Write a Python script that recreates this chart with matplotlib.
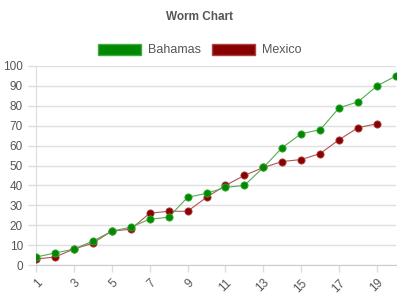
import matplotlib
matplotlib.use("Agg")
import matplotlib.pyplot as plt
from matplotlib.patches import Patch

plt.rcParams['font.family'] = ['Liberation Sans', 'DejaVu Sans']

title = "Worm Chart"
x_bahamas = list(range(1, 21))
bahamas = [4, 6, 8, 12, 17, 19, 23, 24, 34, 36, 39, 40, 49, 59, 66, 68, 79, 82, 90, 95]
x_mexico = list(range(1, 20))
mexico = [3, 4, 8, 11, 17, 18, 26, 27, 27, 34, 40, 45, 49, 52, 53, 56, 63, 69, 71]
x_ticks = [1, 3, 5, 7, 9, 11, 13, 15, 17, 19]
y_ticks = [0, 10, 20, 30, 40, 50, 60, 70, 80, 90, 100]

fig = plt.figure(figsize=(4, 3), dpi=100)
ax = fig.add_axes([36/400, 35/300, 360/400, 199/300])

green = '#008800'
red = '#880000'
ax.plot(x_bahamas, bahamas, color='#55aa55', lw=0.8, zorder=3)
ax.plot(x_bahamas, bahamas, 'o', color=green, mec='#33aa33', mew=0.6, ms=5.2, zorder=4)
ax.plot(x_mexico, mexico, color='#b05555', lw=0.8, zorder=2)
ax.plot(x_mexico, mexico, 'o', color=red, mec='#aa4444', mew=0.6, ms=5.2, zorder=3)

ax.set_xlim(1, 20)
ax.set_ylim(0, 100)
ax.set_yticks(y_ticks)
ax.set_xticks(x_ticks)
ax.set_xticklabels([str(v) for v in x_ticks], rotation=45, ha='right', rotation_mode='anchor')
ax.tick_params(axis='both', colors='#dddddd', labelcolor='#555555', labelsize=8.5, length=6, width=1)
ax.tick_params(axis='x', length=5)
ax.grid(axis='y', color='#e0e0e0', lw=1)
for s in ['top', 'right']:
    ax.spines[s].set_visible(False)
ax.spines['left'].set_color('#dddddd')
ax.spines['bottom'].set_color('#cccccc')
ax.set_axisbelow(True)

fig.text(0.5, 1 - 17/300, title, ha='center', va='center', fontsize=8.5, fontweight='bold', color='#555555')

handles = [Patch(facecolor=green, edgecolor='#44aa44', lw=1, label='Bahamas'),
           Patch(facecolor=red, edgecolor='#aa4444', lw=1, label='Mexico')]
fig.legend(handles=handles, loc='center', bbox_to_anchor=(0.5, 1 - 50/300), ncol=2, frameon=False,
           fontsize=9, handlelength=3.4, handleheight=1.0, handletextpad=0.6, columnspacing=0.9,
           labelcolor='#555555')

fig.savefig('out.png', dpi=100)
